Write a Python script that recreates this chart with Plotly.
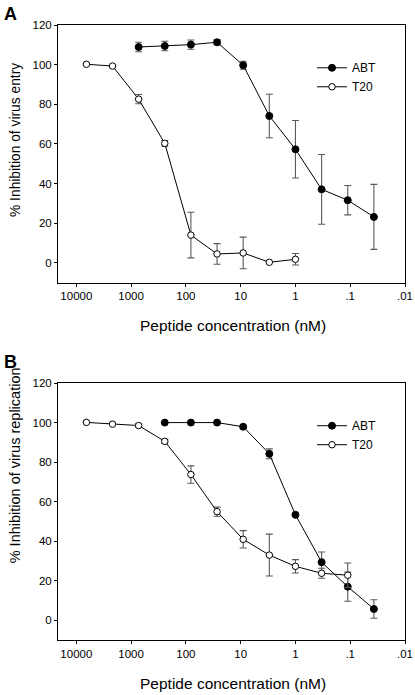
import plotly.graph_objects as go

# ---------------- Data ----------------
# Panel A: inhibition of virus entry
a_abt_conc = [729, 243, 81, 27, 9, 3, 1, 0.333, 0.111, 0.037]
a_abt_val = [108.9, 109.4, 110.1, 111.3, 99.7, 74.1, 57.3, 37.1, 31.6, 23.2]
a_abt_err = [2.4, 2.4, 2.3, 1.3, 2.0, 11.0, 14.5, 17.6, 7.4, 16.4]

a_t20_conc = [6561, 2187, 729, 243, 81, 27, 9, 3, 1]
a_t20_val = [100.2, 99.3, 82.6, 60.3, 14.0, 4.5, 5.0, 0.3, 1.8]
a_t20_err = [0, 0, 2.3, 1.4, 11.5, 5.2, 8.0, 0, 2.9]

# Panel B: inhibition of virus replication
b_abt_conc = [243, 81, 27, 9, 3, 1, 0.333, 0.111, 0.037]
b_abt_val = [100.1, 100.1, 100.1, 98.0, 84.3, 53.4, 29.4, 17.0, 5.7]
b_abt_err = [0, 0, 0, 0.5, 2.5, 0, 5.2, 7.4, 4.7]

b_t20_conc = [6561, 2187, 729, 243, 81, 27, 9, 3, 1, 0.333, 0.111]
b_t20_val = [100.2, 99.3, 98.6, 90.6, 73.8, 55.0, 41.0, 33.0, 27.3, 23.8, 22.8]
b_t20_err = [0, 0, 1.0, 1.0, 4.4, 2.3, 4.4, 10.6, 3.4, 2.5, 6.2]

x_tickvals = [10000, 1000, 100, 10, 1, 0.1, 0.01]
x_ticktext = ["10000", "1000", "100", "10", "1", ".1", ".01"]
y_tickvals = [0, 20, 40, 60, 80, 100, 120]

series_names = ["ABT", "T20"]
panel_labels = ["A", "B"]
x_title = "Peptide concentration (nM)"
y_titles = ["% Inhibition of virus entry", "% Inhibition of virus replication"]

# ---------------- Figure ----------------
FONT = "Liberation Sans, Arial, sans-serif"
fig = go.Figure()

def add_series(x, y, e, name, filled, xa, ya, legend, show_legend=True):
    fig.add_trace(go.Scatter(
        x=x, y=y, name=name, mode="lines+markers",
        xaxis=xa, yaxis=ya, legend=legend, showlegend=show_legend,
        line=dict(color="black", width=1),
        marker=dict(symbol="circle", size=7 if filled else 6.5,
                    color="black" if filled else "white",
                    line=dict(color="black", width=1)),
        error_y=dict(type="data", array=e, visible=True,
                     color="#5a5a5a", thickness=1.1, width=3.5),
    ))

add_series(a_abt_conc, a_abt_val, a_abt_err, series_names[0], True, "x", "y", "legend")
add_series(a_t20_conc, a_t20_val, a_t20_err, series_names[1], False, "x", "y", "legend")
add_series(b_abt_conc, b_abt_val, b_abt_err, series_names[0], True, "x2", "y2", "legend2")
add_series(b_t20_conc, b_t20_val, b_t20_err, series_names[1], False, "x2", "y2", "legend2")

xaxis_common = dict(
    type="log", range=[4.335, -2], tickvals=x_tickvals, ticktext=x_ticktext,
    showline=True, linecolor="black", linewidth=1, mirror=True,
    ticks="outside", ticklen=3, tickcolor="black", showgrid=False, zeroline=False,
    tickfont=dict(family=FONT, size=11.5, color="black"), automargin=False,
)
yaxis_common = dict(
    range=[-10, 120], tickvals=y_tickvals,
    showline=True, linecolor="black", linewidth=1, mirror=True,
    ticks="outside", ticklen=3, tickcolor="black", showgrid=False, zeroline=False,
    tickfont=dict(family=FONT, size=11.5, color="black"), automargin=False,
)

legend_common = dict(
    xanchor="left", yanchor="top", bgcolor="rgba(0,0,0,0)",
    font=dict(family=FONT, size=12, color="black"),
    traceorder="normal",
)

fig.update_layout(
    width=415, height=695,
    margin=dict(l=58, r=10, t=25, b=55),
    paper_bgcolor="white", plot_bgcolor="white",
    font=dict(family=FONT, color="black"),
    xaxis=dict(domain=[0, 1], anchor="y", **xaxis_common),
    yaxis=dict(domain=[0.581, 1], anchor="x", **yaxis_common),
    xaxis2=dict(domain=[0, 1], anchor="y2", **xaxis_common),
    yaxis2=dict(domain=[0, 0.4174], anchor="x2", **yaxis_common),
    legend=dict(x=0.732, y=0.954, **legend_common),
    legend2=dict(x=0.732, y=0.372, **legend_common),
)

annotations = []
title_sizes = [13.8, 14.5]
for i, (yx, yy, lab_y) in enumerate([(0.512, 0.813, 1.018), (-0.0705, 0.284, 0.4525)]):
    annotations.append(dict(text=x_title, xref="paper", yref="paper", x=0.503, y=yx,
                            xanchor="center", yanchor="middle", showarrow=False,
                            font=dict(family=FONT, size=15.5, color="black")))
    annotations.append(dict(text=y_titles[i], xref="paper", yref="paper", x=-0.124, y=yy,
                            xanchor="center", yanchor="middle", showarrow=False, textangle=-90,
                            font=dict(family=FONT, size=title_sizes[i], color="black")))
    annotations.append(dict(text="<b>%s</b>" % panel_labels[i], xref="paper", yref="paper",
                            x=-0.138, y=lab_y, xanchor="center", yanchor="middle",
                            showarrow=False, font=dict(family=FONT, size=18, color="black")))
fig.update_layout(annotations=annotations)

# remove the default 8px page margin so the figure fills the window exactly
fig.write_html("out.html", config={"displayModeBar": False},
               post_script="document.body.style.margin='0';document.body.style.padding='0';")
